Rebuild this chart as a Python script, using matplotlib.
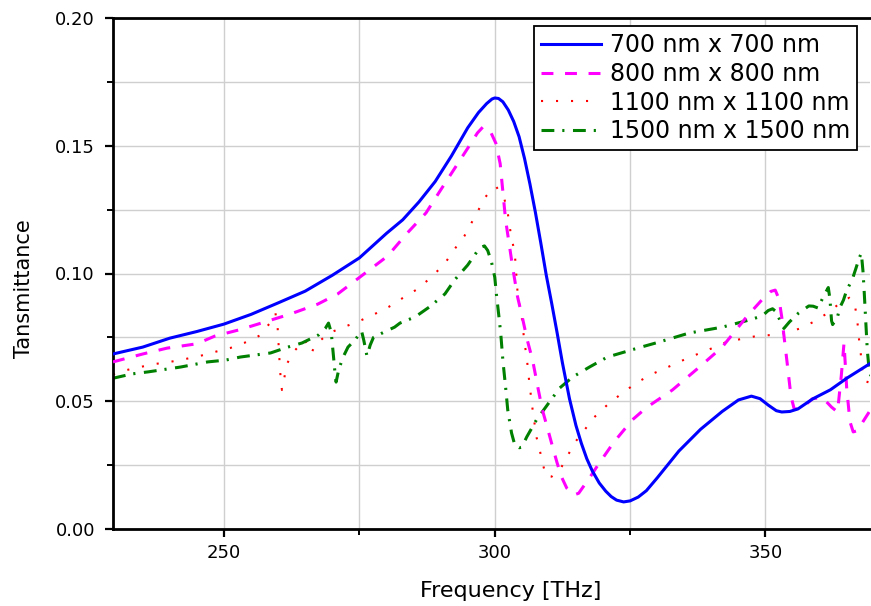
import numpy as np
import matplotlib
matplotlib.use("Agg")
import matplotlib.pyplot as plt
from matplotlib.ticker import MultipleLocator

# ---- data: transmittance vs frequency for four square apertures ----
labels = ["700 nm x 700 nm", "800 nm x 800 nm", "1100 nm x 1100 nm", "1500 nm x 1500 nm"]

f_700 = [229.5, 235, 240, 245, 250, 255, 260, 265, 270, 275, 280, 283, 286, 289, 292,
         295, 297, 298.5, 299.5, 300, 300.7, 301.5, 302.5, 303.5, 304.5, 305.5, 306.5,
         307.5, 308.5, 309.5, 310.5, 311.5, 312.5, 313.8, 315, 316, 317, 318, 319.3, 320.5,
         321.5, 322.5, 323.8, 325, 326.5, 328, 330, 334, 338, 342, 345, 347.4, 349, 350.5,
         352, 353, 354.5, 356, 358.7, 362, 365, 369.5]
t_700 = [0.0685, 0.0712, 0.0747, 0.0773, 0.0802, 0.0840, 0.0885, 0.0931, 0.0993, 0.1061,
         0.1157, 0.1210, 0.1280, 0.1360, 0.1460, 0.1570, 0.1630, 0.1665, 0.1683, 0.1687,
         0.1685, 0.1672, 0.1640, 0.1595, 0.1535, 0.1450, 0.1350, 0.1240, 0.1120, 0.0995,
         0.0885, 0.0770, 0.0650, 0.0510, 0.0405, 0.0335, 0.0275, 0.0228, 0.0180, 0.0148,
         0.0127, 0.0113, 0.0106, 0.0110, 0.0125, 0.0150, 0.0200, 0.0305, 0.0390, 0.0460,
         0.0505, 0.0520, 0.0510, 0.0485, 0.0463, 0.0458, 0.0460, 0.0470, 0.0509, 0.0545,
         0.0590, 0.0650]

f_800 = [229.5, 235, 239.5, 245, 248.3, 252.9, 257.5, 262.2, 267.3, 271, 275.6, 280.2,
         283.7, 287.3, 289.8, 292.4, 295, 296.8, 297.8, 299, 300.2, 301, 302, 303.3,
         304.2, 305.2, 306, 307, 308, 308.8, 309.8, 310.7, 311.5, 312.3, 313.3, 314.6,
         315.5, 316.5, 317.5, 319.3, 322, 325.4, 328, 332.8, 337.8, 342, 346.5, 349.3,
         351, 351.8, 352.5, 353, 354, 354.7, 355.3, 356.5, 358.7, 360.5, 362.2, 363.3,
         364, 364.5, 365, 365.6, 366.2, 367, 368, 369.5]
t_800 = [0.0654, 0.0685, 0.0708, 0.0725, 0.0755, 0.0780, 0.0810, 0.0841, 0.0880, 0.0920,
         0.0994, 0.1068, 0.1155, 0.1237, 0.1320, 0.1405, 0.1490, 0.1550, 0.1573, 0.1565,
         0.1510, 0.1430, 0.1210, 0.1025, 0.0910, 0.0818, 0.0740, 0.0660, 0.0550, 0.0466,
         0.0390, 0.0320, 0.0260, 0.0205, 0.0160, 0.0133, 0.0140, 0.0170, 0.0200, 0.0258,
         0.0340, 0.0427, 0.0475, 0.0544, 0.0634, 0.0712, 0.0830, 0.0896, 0.0930, 0.0935,
         0.0900, 0.0830, 0.0650, 0.0520, 0.0470, 0.0470, 0.0510, 0.0515, 0.0477, 0.0458,
         0.0600, 0.0728, 0.0550, 0.0420, 0.0380, 0.0385, 0.0420, 0.0470]

f_1100 = [229.5, 232, 234.5, 237.3, 240, 242.8, 245.5, 248.3, 251.1, 253.7, 256.4, 258.5,
          259.5, 259.9, 260.1, 260.3, 260.5, 260.7, 261, 261.6, 263, 264.9, 266.2, 266.8,
          269.4, 272.1, 275, 277.7, 280.4, 283, 285.8, 288.5, 290.8, 292.6, 294.4, 295.7,
          297, 298.3, 299.5, 300.3, 301.2, 301.8, 302.4, 303, 303.7, 304.2, 304.6, 305,
          305.5, 305.9, 306.4, 307, 307.7, 308.3, 308.8, 309.5, 310.5, 312, 313.3, 314.7,
          318.4, 321, 323.8, 326.4, 329.1, 332, 334.7, 337.5, 340.2, 342.8, 345.6, 348.3,
          350.9, 353.7, 356.4, 359.2, 361.8, 364.4, 365.5, 366.4, 366.8, 367.1, 367.3,
          367.6, 367.9, 368.3, 369.5]
t_1100 = [0.0605, 0.0622, 0.0634, 0.0646, 0.0654, 0.0665, 0.0677, 0.0693, 0.0708, 0.0728,
          0.0755, 0.0806, 0.0845, 0.0790, 0.0715, 0.0640, 0.0580, 0.0544, 0.0575, 0.0646,
          0.0697, 0.0740, 0.0690, 0.0720, 0.0767, 0.0790, 0.0814, 0.0840, 0.0869, 0.0904,
          0.0940, 0.0990, 0.1040, 0.1096, 0.1147, 0.1198, 0.1249, 0.1300, 0.1330, 0.1339,
          0.1310, 0.1290, 0.1237, 0.1150, 0.1080, 0.0930, 0.0870, 0.0826, 0.0728, 0.0673,
          0.0570, 0.0466, 0.0360, 0.0310, 0.0260, 0.0205, 0.0205, 0.0230, 0.0280, 0.0336,
          0.0438, 0.0490, 0.0536, 0.0575, 0.0607, 0.0634, 0.0660, 0.0685, 0.0708, 0.0732,
          0.0744, 0.0755, 0.0759, 0.0767, 0.0785, 0.0814, 0.0850, 0.0896, 0.0905, 0.0890,
          0.0838, 0.0787, 0.0736, 0.0685, 0.0614, 0.0580, 0.0570]

f_1500 = [229.5, 233, 236, 242, 247, 250.3, 253, 258.6, 261.8, 264.4, 267.5, 268.7, 269.3,
          269.8, 270.2, 270.5, 270.7, 271.2, 272, 272.9, 274.2, 275.4, 275.8, 276.4, 277,
          277.6, 279.5, 281.5, 282.5, 285.3, 288, 290.8, 292.6, 295, 297.2, 298.1, 298.7,
          299.4, 300, 300.3, 300.7, 301.1, 301.5, 302, 302.4, 303.1, 303.7, 304.5, 305,
          305.9, 307.7, 310.1, 312, 314.4, 317.5, 320.8, 324, 326.7, 330.4, 335.9, 342,
          347, 349.4, 350.5, 351.3, 352, 352.8, 353.4, 354.4, 356.1, 358, 358.8, 359.7,
          360.7, 361.6, 361.9, 362.2, 362.4, 363.3, 363.7, 364.4, 365, 366, 366.7, 367.3,
          367.7, 368, 368.2, 368.5, 368.8, 369.2, 369.5]
t_1500 = [0.0590, 0.0607, 0.0615, 0.0634, 0.0654, 0.0661, 0.0673, 0.0689, 0.0712, 0.0728,
          0.0760, 0.0785, 0.0806, 0.0770, 0.0680, 0.0610, 0.0575, 0.0625, 0.0673, 0.0712,
          0.0740, 0.0775, 0.0740, 0.0677, 0.0720, 0.0750, 0.0770, 0.0790, 0.0806, 0.0830,
          0.0870, 0.0920, 0.0975, 0.1033, 0.1100, 0.1108, 0.1090, 0.1045, 0.0986, 0.0920,
          0.0845, 0.0767, 0.0660, 0.0556, 0.0466, 0.0376, 0.0329, 0.0318, 0.0320, 0.0360,
          0.0427, 0.0497, 0.0552, 0.0595, 0.0634, 0.0673, 0.0693, 0.0710, 0.0732, 0.0767,
          0.0790, 0.0818, 0.0834, 0.0855, 0.0862, 0.0850, 0.0810, 0.0785, 0.0810, 0.0845,
          0.0873, 0.0872, 0.0865, 0.0910, 0.0945, 0.0900, 0.0815, 0.0800, 0.0830, 0.0865,
          0.0896, 0.0935, 0.0975, 0.1020, 0.1060, 0.1080, 0.1010, 0.0940, 0.0820, 0.0700,
          0.0610, 0.0600]

x_ticks = [250, 300, 350]
y_ticks = [0.00, 0.05, 0.10, 0.15, 0.20]
y_ticklabels = ["0.00", "0.05", "0.10", "0.15", "0.20"]

# ---- figure ----
plt.rcParams["font.family"] = ["DejaVu Sans"]
W, H = 871, 606
fig = plt.figure(figsize=(W / 100, H / 100), dpi=100)
ax = fig.add_axes([113 / W, 1 - 529 / H, (870 - 113) / W, (529 - 18) / H])

ax.plot(f_700, t_700, color="#0000ff", lw=2.2, label=labels[0], zorder=4)
ax.plot(f_800, t_800, color="#ff00ff", lw=2.2, linestyle=(0, (3.9, 3.8)), label=labels[1], zorder=3)
ax.plot(f_1100, t_1100, color="#ff0000", lw=1.5, linestyle=(0, (1.0, 6.2)), label=labels[2], zorder=2)
ax.plot(f_1500, t_1500, color="#008000", lw=2.2, linestyle=(0, (4.2, 2.6, 0.7, 2.8)), label=labels[3], zorder=2)

ax.set_xlim(229.5, 369.3)
ax.set_ylim(0.0, 0.20)
ax.set_xticks(x_ticks)
ax.set_yticks(y_ticks)
ax.set_yticklabels(y_ticklabels)
ax.xaxis.set_minor_locator(MultipleLocator(25))
ax.yaxis.set_minor_locator(MultipleLocator(0.025))

ax.grid(True, which="both", color="#cfcfcf", lw=1.0)
ax.set_axisbelow(True)

for side in ("left", "bottom", "top"):
    ax.spines[side].set_linewidth(2.0)
    ax.spines[side].set_color("black")
ax.spines["right"].set_visible(False)

ax.tick_params(axis="both", which="major", direction="out", length=6, width=1.6,
               labelsize=13, color="black")
ax.tick_params(axis="both", which="minor", direction="out", length=4, width=1.4, color="black")
ax.tick_params(axis="x", which="major", pad=5)
ax.tick_params(axis="y", which="major", pad=7)
ax.tick_params(top=False, right=False, which="both")

ax.set_xlabel("Frequency [THz]", fontsize=16)
ax.set_ylabel("Tansmittance", fontsize=15)
ax.xaxis.set_label_coords((511 - 113) / 757, -0.102)
ax.yaxis.set_label_coords(-0.105, 0.47)

leg = ax.legend(loc="upper right", bbox_to_anchor=(857 / W, 1 - 26 / H),
                bbox_transform=fig.transFigure, borderaxespad=0, fontsize=17,
                frameon=True, fancybox=False, framealpha=1, edgecolor="black",
                handlelength=2.55, handletextpad=0.35, labelspacing=0.2, borderpad=0.3)
leg.get_frame().set_linewidth(1.3)

fig.savefig("out.png", dpi=100)
